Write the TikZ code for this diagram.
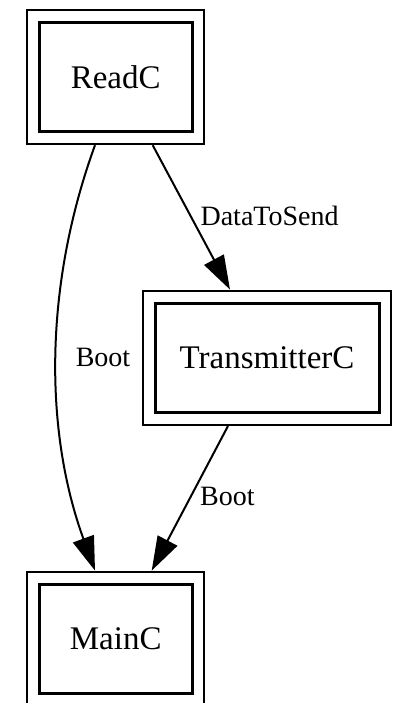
\documentclass[tikz,border=0pt]{standalone}
\usepackage{fontspec}
\setmainfont{Liberation Serif}
\usetikzlibrary{arrows.meta,fit}

\tikzset{
  comp/.style={draw, line width=3pt, minimum width=153pt, minimum height=109pt,
    inner sep=0pt, font=\fontsize{33}{36}\selectfont},
  peri/.style={draw, line width=2pt, inner xsep=10.3pt, inner ysep=11.2pt},
  link/.style={line width=2pt, -{Triangle[length=34pt,width=22pt]}},
  lbl/.style={font=\fontsize{28}{30}\selectfont, inner sep=0pt, anchor=west}
}

\begin{document}
\begin{tikzpicture}[x=1pt,y=-1pt]
\useasboundingbox (0,0) rectangle (397,703);
\clip (0,0) rectangle (397,703);
% components
\node[comp] (readcI) at (115.7,77) {ReadC};
\node[comp, minimum width=224pt] (transI) at (267,357.8) {TransmitterC};
\node[comp] (maincI) at (115.7,638.8) {MainC};
% second periphery round each one
\node[peri, fit=(readcI)] (readc) {};
\node[peri, fit=(transI)] (trans) {};
\node[peri, fit=(maincI)] (mainc) {};
% wires
\draw[link] ([xshift=-20.7pt]readc.south) .. controls +(-51,140) and +(-51,-140) ..
  ([xshift=-20.7pt]mainc.north) node[lbl, pos=0.5, xshift=18pt] {Boot};
\draw[link] ([xshift=37pt]readc.south) -- ([xshift=-37pt]trans.north)
  node[lbl, pos=0.49, xshift=9pt] {DataToSend};
\draw[link] ([xshift=-39pt]trans.south) -- ([xshift=36pt]mainc.north)
  node[lbl, pos=0.49, xshift=8.5pt] {Boot};
\end{tikzpicture}
\end{document}
